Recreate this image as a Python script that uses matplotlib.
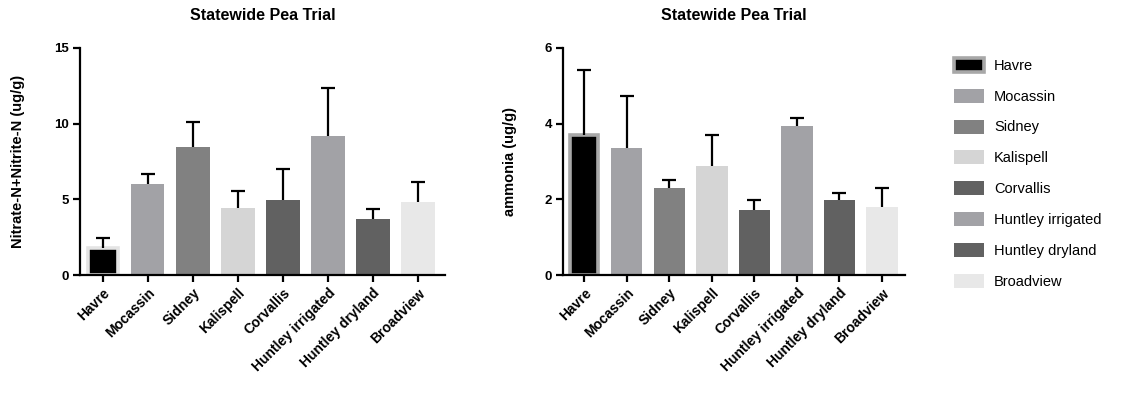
import matplotlib
matplotlib.use("Agg")
import matplotlib.pyplot as plt

plt.rcParams['font.family'] = ['Liberation Sans', 'DejaVu Sans']

sites = ["Havre", "Mocassin", "Sidney", "Kalispell", "Corvallis",
         "Huntley irrigated", "Huntley dryland", "Broadview"]
nitrate_mean = [1.81, 6.0, 8.47, 4.41, 4.95, 9.2, 3.71, 4.83]
nitrate_err = [0.62, 0.69, 1.63, 1.15, 2.07, 3.14, 0.66, 1.33]
ammonia_mean = [3.69, 3.35, 2.30, 2.88, 1.73, 3.95, 1.98, 1.81]
ammonia_err = [1.72, 1.39, 0.21, 0.82, 0.26, 0.20, 0.20, 0.49]

colors = ["#000000", "#a2a2a6", "#818181", "#d5d5d5", "#616161",
          "#a2a2a6", "#616161", "#e8e8e8"]
havre_edge_left = "#e4e4e4"
havre_edge_right = "#a8a8a8"

fig = plt.figure(figsize=(11.31, 4.0), dpi=100)
ax1 = fig.add_axes([80/1131, 125/400, 365/1131, 227/400])
ax2 = fig.add_axes([563/1131, 125/400, 342/1131, 227/400])

def draw(ax, means, errs, ylim, yticks, ylabel, havre_edge, xlim, label_x):
    x = list(range(len(sites)))
    widths = [0.66] + [0.735] * (len(sites) - 1)
    edgecolors = [havre_edge] + colors[1:]
    lws = [2.6] + [0] * (len(sites) - 1)
    bars = ax.bar(x, means, width=widths, color=colors, edgecolor=edgecolors,
                  linewidth=lws, zorder=2)
    tops = [m + e for m, e in zip(means, errs)]
    ax.vlines(x, means, tops, colors="black", linewidth=1.6, zorder=3)
    ax.plot(x, tops, linestyle="none", marker="_", markersize=10,
            markeredgewidth=1.6, color="black", zorder=3)
    ax.set_ylim(*ylim)
    ax.set_xlim(*xlim)
    ax.set_yticks(yticks)
    ax.set_yticklabels([str(t) for t in yticks], fontweight="bold", fontsize=9.5)
    ax.set_xticks(x)
    ax.set_xticklabels(sites, rotation=45, ha="right", va="top",
                       rotation_mode="anchor", fontweight="bold", fontsize=10)
    for s in ["top", "right"]:
        ax.spines[s].set_visible(False)
    for s in ["left", "bottom"]:
        ax.spines[s].set_linewidth(1.6)
    ax.tick_params(axis="both", direction="out", length=5, width=1.6, pad=3)
    ax.set_ylabel(ylabel, fontweight="bold", fontsize=10.5)
    ax.yaxis.set_label_coords(label_x, 0.5)
    ax.set_title("Statewide Pea Trial", fontweight="bold", fontsize=11.5, pad=20)
    return bars

draw(ax1, nitrate_mean, nitrate_err, (0, 15), [0, 5, 10, 15],
     "Nitrate-N+Nitrite-N (ug/g)", havre_edge_left, (-0.51, 7.6), -0.15)
bars = draw(ax2, ammonia_mean, ammonia_err, (0, 6), [0, 2, 4, 6],
            "ammonia (ug/g)", havre_edge_right, (-0.5, 7.54), -0.135)

leg = fig.legend(bars, sites, loc="upper left", bbox_to_anchor=(948/1131, 1 - 52/400),
                 frameon=False, fontsize=10.5, handlelength=2.1, handleheight=1.1,
                 labelspacing=1.09, handletextpad=0.65, borderaxespad=0)

fig.savefig("out.png", dpi=100)
